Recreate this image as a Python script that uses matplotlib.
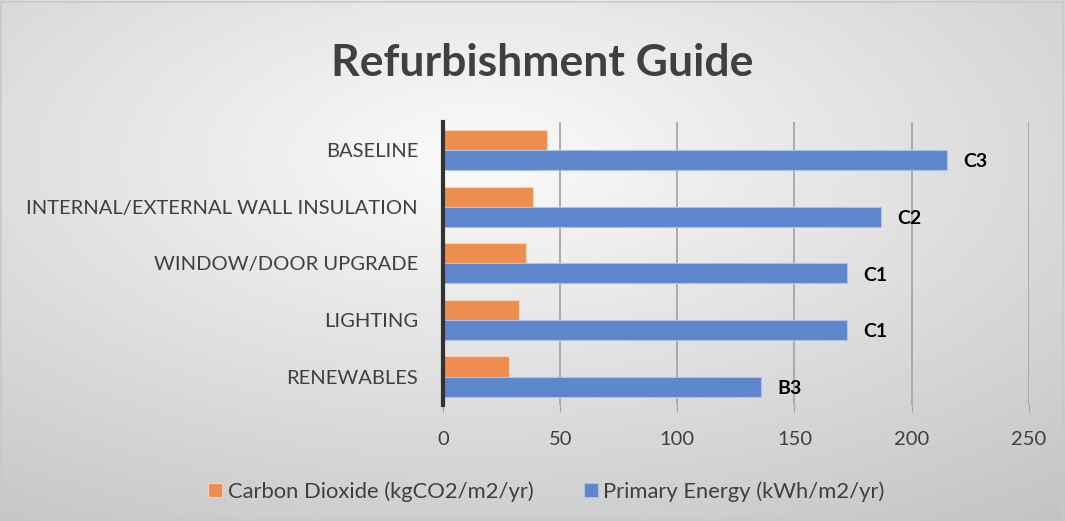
import numpy as np
import matplotlib
matplotlib.use("Agg")
import matplotlib.pyplot as plt
from matplotlib.patches import Rectangle

categories = ["BASELINE", "INTERNAL/EXTERNAL WALL INSULATION", "WINDOW/DOOR UPGRADE", "LIGHTING", "RENEWABLES"]
co2_values = [44.5, 38.5, 35.5, 32.5, 28]
energy_values = [215, 187, 172.5, 172.5, 135.5]
energy_labels = ["C3", "C2", "C1", "C1", "B3"]
x_ticks = [0, 50, 100, 150, 200, 250]
series_names = ["Carbon Dioxide (kgCO2/m2/yr)", "Primary Energy (kWh/m2/yr)"]

orange = "#EE8E4E"
blue = "#5A83CB"
font = ["Lato", "DejaVu Sans"]

fig = plt.figure(figsize=(10.65, 5.21), dpi=100)

# background gradient
bg = fig.add_axes([0, 0, 1, 1], zorder=-10)
h, w = 200, 400
yy, xx = np.mgrid[0:h, 0:w]
cx, cy = w * 0.45, h * 0.3
d = np.sqrt(((xx - cx) / w) ** 2 + ((yy - cy) / h) ** 2)
d = d / d.max()
v = 0.985 - 0.22 * d
img = np.dstack([v, v, v])
bg.imshow(img, extent=[0, 1, 0, 1], aspect="auto", origin="upper")
bg.add_patch(Rectangle((0.001, 0.002), 0.997, 0.995, fill=False, edgecolor="#C8C8C8", lw=1.2, transform=bg.transAxes))
bg.set_xlim(0, 1); bg.set_ylim(0, 1)
bg.axis("off")

ax = fig.add_axes([0.416, 0.223, 0.55, 0.543])
ax.patch.set_alpha(0)

y = np.arange(len(categories))
bh = 0.355
ax.barh(y - bh / 2, co2_values, height=bh, color=orange, edgecolor="#F6D3BC", linewidth=0.8, zorder=3, label=series_names[0])
ax.barh(y + bh / 2, energy_values, height=bh, color=blue, edgecolor="#AFC3E6", linewidth=0.8, zorder=3, label=series_names[1], alpha=0.97)

for yi, val, lab in zip(y, energy_values, energy_labels):
    ax.text(val + 7, yi + bh / 2 + 0.03, lab, va="center", ha="left", fontsize=14, fontweight="bold", color="black", family=font)

ax.set_xlim(0, 250)
ax.set_ylim(len(categories) - 0.5, -0.5)
ax.set_xticks(x_ticks)
ax.set_xticklabels([str(t) for t in x_ticks], fontsize=14.5, color="#404040", family=font)
ax.set_yticks(y)
ax.set_yticklabels(categories, fontsize=14.5, color="#404040", family=font)
ax.tick_params(axis="y", length=0, pad=18)
ax.tick_params(axis="x", length=5, color="#A0A0A0", pad=14)
ax.grid(axis="x", color="#A6A6A6", lw=1.3, zorder=0)
for s in ["top", "right", "bottom"]:
    ax.spines[s].set_visible(False)
ax.spines["left"].set_color("#333333")
ax.spines["left"].set_linewidth(3)
ax.spines["left"].set_zorder(5)

fig.text(0.509, 0.88, "Refurbishment Guide", ha="center", va="center", fontsize=32, fontweight="bold", color="#404040", family=font)

handles, labels = ax.get_legend_handles_labels()
leg = fig.legend(handles, labels, loc="center", bbox_to_anchor=(0.513, 0.057), ncol=2, frameon=False,
                 prop={"family": font, "size": 15.8}, handlelength=0.64, handleheight=0.64, handletextpad=0.23, columnspacing=2.3)
for t in leg.get_texts():
    t.set_color("#404040")

fig.savefig("out.png", dpi=100)
